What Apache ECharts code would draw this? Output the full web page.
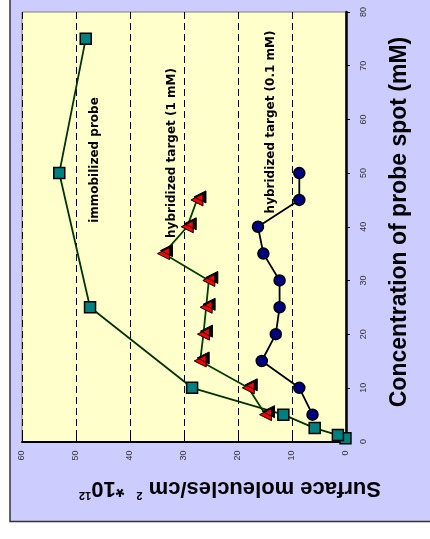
<!DOCTYPE html>
<html>
<head>
<meta charset="utf-8">
<script src="https://cdn.jsdelivr.net/npm/echarts@6/dist/echarts.min.js"></script>
<style>
  html, body { margin: 0; padding: 0; background: #fff; }
  #chart { width: 430px; height: 539px; }
</style>
</head>
<body>
<div id="chart"></div>
<script>
// concentration of probe spot (mM) -> surface molecules/cm2 *10^12
var probeConc = [0.6, 1.2, 2.5, 5, 10, 25, 50, 75];
var probeSurf = [0.1, 1.5, 5.8, 11.6, 28.5, 47.4, 53.1, 48.2];

var target1Conc = [5, 10, 15, 20, 25, 30, 35, 40, 45];
var target1Surf = [14.9, 18.1, 27.0, 26.4, 25.9, 25.4, 33.8, 29.4, 27.6];

var target01Conc = [5, 10, 15, 20, 25, 30, 35, 40, 45, 50];
var target01Surf = [6.2, 8.65, 15.6, 13.0, 12.3, 12.3, 15.3, 16.3, 8.65, 8.65];

var seriesNames = ['immobilized probe', 'hybridized target (1 mM)', 'hybridized target (0.1 mM)'];

function pairs(surf, conc) {
  return surf.map(function (v, i) { return [v, conc[i]]; });
}

var chart = echarts.init(document.getElementById('chart'));
var font = '"Liberation Sans", Arial, sans-serif';
var noteFont = 'bold 12px "DejaVu Sans", sans-serif';

var option = {
  backgroundColor: '#fff',
  animation: false,
  grid: {
    left: 22, right: 84, top: 12, bottom: 97.5,
    show: true,
    backgroundColor: '#FFFFCC',
    borderColor: '#808080',
    borderWidth: 1
  },
  // rotated chart: surface value runs right-to-left along the bottom
  xAxis: {
    type: 'value',
    min: 0, max: 60, interval: 10,
    inverse: true,
    position: 'bottom',
    axisLine: { show: true, onZero: false, lineStyle: { color: '#000', width: 2 } },
    axisTick: { show: true, inside: true, length: 7, lineStyle: { color: '#000', width: 1 } },
    axisLabel: { rotate: 90, margin: 9, fontSize: 9, color: '#333', fontFamily: font },
    splitLine: { show: true, lineStyle: { color: '#000', width: 1, type: [7, 4] } }
  },
  yAxis: {
    type: 'value',
    min: 0, max: 80, interval: 10,
    position: 'right',
    axisLine: { show: true, onZero: false, lineStyle: { color: '#000', width: 2.5 } },
    axisTick: { show: true, inside: false, length: 4, lineStyle: { color: '#000', width: 1 } },
    axisLabel: { rotate: 90, margin: 13, fontSize: 9, color: '#333', fontFamily: font },
    splitLine: { show: false }
  },
  graphic: [
    {
      type: 'rect', z: -10, silent: true,
      shape: { x: 10, y: -10, width: 440, height: 531.5 },
      style: { fill: '#CCCCFF', stroke: '#333', lineWidth: 1.5 }
    },
    {
      type: 'text', x: 400, y: 222, rotation: Math.PI / 2, z: 10,
      style: {
        text: 'Concentration of probe spot (mM)',
        font: 'bold 23px ' + font, fill: '#000',
        align: 'center', verticalAlign: 'middle'
      }
    },
    {
      type: 'text', x: 230, y: 488, rotation: Math.PI, z: 10,
      style: {
        text: '{a|Surface moleucles/cm }{s|2}{a|  *10}{s|12}',
        align: 'center', verticalAlign: 'middle',
        rich: {
          a: { font: 'bold 22px ' + font, fill: '#000', lineHeight: 26 },
          s: { font: 'bold 11px ' + font, fill: '#000', lineHeight: 26, verticalAlign: 'top' }
        }
      }
    },
    {
      type: 'text', x: 95, y: 160, rotation: Math.PI / 2, z: 10,
      style: { text: seriesNames[0], font: noteFont, fill: '#000', align: 'center', verticalAlign: 'middle' }
    },
    {
      type: 'text', x: 171.5, y: 153, rotation: Math.PI / 2, z: 10,
      style: { text: seriesNames[1], font: noteFont, fill: '#000', align: 'center', verticalAlign: 'middle' }
    },
    {
      type: 'text', x: 270.5, y: 122, rotation: Math.PI / 2, z: 10,
      style: { text: seriesNames[2], font: noteFont, fill: '#000', align: 'center', verticalAlign: 'middle' }
    }
  ],
  series: [
    {
      name: seriesNames[2],
      type: 'line',
      data: pairs(target01Surf, target01Conc),
      symbol: 'circle',
      symbolSize: 11,
      lineStyle: { color: '#000', width: 1.8 },
      itemStyle: { color: '#000080', borderColor: '#000', borderWidth: 1.5 }
    },
    {
      name: seriesNames[1],
      type: 'line',
      data: pairs(target1Surf, target1Conc),
      symbol: 'triangle',
      symbolRotate: 90,
      symbolSize: 12,
      lineStyle: { color: '#003d00', width: 1.8 },
      itemStyle: {
        color: '#FF0000', borderColor: '#000', borderWidth: 1,
        shadowColor: '#000', shadowBlur: 0, shadowOffsetX: 3, shadowOffsetY: -3
      }
    },
    {
      name: seriesNames[0],
      type: 'line',
      data: pairs(probeSurf, probeConc),
      symbol: 'rect',
      symbolSize: 11,
      lineStyle: { color: '#003300', width: 1.8 },
      itemStyle: { color: '#008080', borderColor: '#000', borderWidth: 1.5 }
    }
  ]
};

chart.setOption(option);
</script>
</body>
</html>
